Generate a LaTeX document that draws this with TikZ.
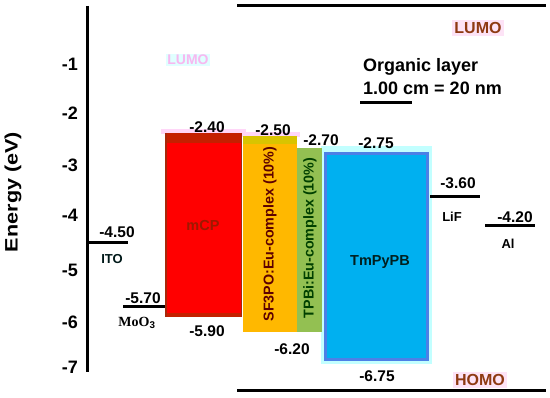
\documentclass[tikz,border=0pt]{standalone}
\usepackage{fontspec}
\setmainfont{Liberation Sans}
\newfontfamily\serifbold{Liberation Serif}
\begin{document}
\begin{tikzpicture}[x=1pt,y=-1pt,
  lvl/.style={line width=3pt},
  val/.style={font=\bfseries\fontsize{15.5}{17}\selectfont, inner sep=0pt},
  tick/.style={font=\bfseries\fontsize{18}{20}\selectfont, anchor=east, inner sep=0pt},
  small/.style={font=\bfseries\fontsize{13}{15}\selectfont, inner sep=0pt},
  bar/.style={inner sep=0pt, outer sep=0pt},
  orbital/.style={font=\bfseries\fontsize{16}{18}\selectfont, text=lumobrown, fill=lumopink, inner sep=2pt},
  vlabel/.style={font=\bfseries\fontsize{14.3}{16}\selectfont, rotate=90, inner sep=0pt}
]
\definecolor{lumobrown}{HTML}{8E3A12}
\definecolor{lumopink}{HTML}{FDE3F6}
\definecolor{mcpred}{HTML}{FF0000}
\definecolor{mcpdark}{HTML}{C42000}
\definecolor{mcpedge}{HTML}{A8280A}
\definecolor{sforange}{HTML}{FFB800}
\definecolor{sfband}{HTML}{D9C400}
\definecolor{tpbgreen}{HTML}{93C052}
\definecolor{tmblue}{HTML}{00B0F0}
\definecolor{tmedge}{HTML}{4C80E6}
\definecolor{tmhalo}{HTML}{C2FFFF}
\definecolor{pinkhalo}{HTML}{FFD6F8}
\definecolor{ghostpink}{HTML}{F7B8F0}
\definecolor{ghostcyan}{HTML}{E0FFFF}
\useasboundingbox (0,0) rectangle (550,398);
\fill[white] (0,0) rectangle (550,398);

% axis
\coordinate (axtop) at (87,6);
\coordinate (axbot) at (87,372);
\draw[lvl] (axtop) -- (axbot);
\node[tick] (t1) at (78,64) {-1};
\node[tick] (t2) at (78,113) {-2};
\node[tick] (t3) at (78,165) {-3};
\node[tick] (t4) at (78,215) {-4};
\node[tick] (t5) at (78,270) {-5};
\node[tick] (t6) at (78,322) {-6};
\node[tick] (t7) at (78,367) {-7};
\node[rotate=90, inner sep=0pt, font=\bfseries\fontsize{18}{20}\selectfont] (ylab) at (13,192) {\scalebox{1.2}[1]{Energy (eV)}};

% top and bottom lines
\coordinate (tl) at (237,6); \coordinate (tr) at (546,6);
\coordinate (bl) at (237,391); \coordinate (br) at (546,391);
\draw[lvl] (tl) -- (tr);
\draw[lvl] (bl) -- (br);
\node[orbital] (lumo) at (478,28) {LUMO};
\node[orbital] (homo) at (480,380) {HOMO};

% ghost label
\node[font=\bfseries\fontsize{14}{16}\selectfont, text=ghostpink, fill=ghostcyan, inner sep=1pt] (ghost) at (188,60) {LUMO};

% scale note
\node[anchor=west, inner sep=0pt, font=\bfseries\fontsize{18}{20}\selectfont] (org) at (363,67) {Organic layer};
\node[anchor=west, inner sep=0pt, font=\bfseries\fontsize{18}{20}\selectfont] (scale) at (363,88) {1.00 cm = 20 nm};
\coordinate (sbl) at (360,103); \coordinate (sbr) at (412,103);
\draw[lvl] (sbl) -- (sbr);

% halos
\fill[pinkhalo] (161,129) rectangle (246,134);
\fill[pinkhalo] (240,132) rectangle (300,137);
\fill[tmhalo] (321,146) rectangle (432,364);

% mCP
\node[bar, fill=mcpred, minimum width=77, minimum height=184] (mcp) at (203.5,225) {};
\fill[mcpdark] (mcp.north west) rectangle ([yshift=-10]mcp.north east);
\fill[mcpdark] ([yshift=4]mcp.south west) rectangle (mcp.south east);
\draw[mcpedge, line width=1.5pt] ([xshift=0.75]mcp.north west) -- ([xshift=0.75]mcp.south west);
\draw[mcpedge, line width=1.5pt] ([xshift=-0.75]mcp.north east) -- ([xshift=-0.75]mcp.south east);
\node[font=\bfseries\fontsize{14.5}{16}\selectfont, text=mcpdark!80!black] (mcpl) at (203,226) {mCP};

% SF3PO
\node[bar, fill=sforange, minimum width=54, minimum height=196] (sf) at (270,234) {};
\fill[sfband] (sf.north west) rectangle ([yshift=-8]sf.north east);
\node[vlabel, text=black!60!red!90!black] (sfl) at (270,234) {SF3PO:Eu-complex (10\%)};

% TPBi
\node[bar, fill=tpbgreen, minimum width=25, minimum height=184] (tpb) at (309.5,240) {};
\node[vlabel, text=black!75!green] (tpbl) at (310,238) {TPBi:Eu-complex (10\%)};

% TmPyPB
\node[bar, fill=tmblue, draw=tmedge, line width=3pt, minimum width=102, minimum height=206] (tm) at (376.5,256.5) {};
\node[font=\bfseries\fontsize{14.5}{16}\selectfont, text=black!75!teal] (tml) at (380,262) {TmPyPB};

% values at bars
\node[val] (v240) at (207,127) {-2.40};
\node[val] (v250) at (273,130) {-2.50};
\node[val] (v270) at (321,140) {-2.70};
\node[val] (v275) at (376,143) {-2.75};
\node[val] (v590) at (207,331) {-5.90};
\node[val] (v620) at (292,349) {-6.20};
\node[val] (v675) at (377,376) {-6.75};

% electrode levels
\coordinate (itoL) at (88,243); \coordinate (itoR) at (128,243);
\draw[lvl] (itoL) -- (itoR);
\node[val] (v450) at (117,232) {-4.50};
\node[small, text=black!80!teal] (ito) at (112,259) {ITO};

\coordinate (mooL) at (123,307); \coordinate (mooR) at (165,307);
\draw[lvl] (mooL) -- (mooR);
\node[val] (v570) at (143,298) {-5.70};
\node[inner sep=0pt, font=\serifbold\bfseries\fontsize{14}{16}\selectfont] (moo) at (137,323) {MoO$_\mathbf{3}$};

\coordinate (lifL) at (430,197); \coordinate (lifR) at (480,197);
\draw[lvl] (lifL) -- (lifR);
\node[val] (v360) at (458,183) {-3.60};
\node[small] (lif) at (452,217) {LiF};

\coordinate (alL) at (485,226); \coordinate (alR) at (535,226);
\draw[lvl] (alL) -- (alR);
\node[val] (v420) at (515,217) {-4.20};
\node[small] (al) at (508,244) {Al};
\end{tikzpicture}
\end{document}
